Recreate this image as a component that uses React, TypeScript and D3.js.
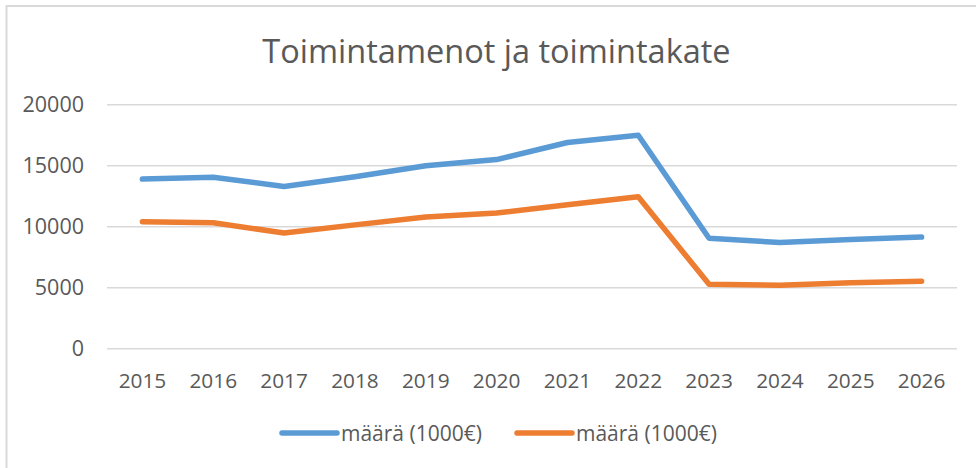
import React from "react";
import * as d3 from "d3";

const years = ["2015","2016","2017","2018","2019","2020","2021","2022","2023","2024","2025","2026"];
const seriesA = [13900, 14050, 13300, 14100, 15000, 15500, 16900, 17500, 9050, 8700, 8950, 9150];
const seriesB = [10400, 10330, 9480, 10150, 10800, 11120, 11800, 12450, 5280, 5200, 5400, 5530];
const seriesNames = ["määrä (1000€)", "määrä (1000€)"];
const yTicks = [0, 5000, 10000, 15000, 20000];
const title = "Toimintamenot ja toimintakate";

const W = 976, H = 468;
const FONT = "'Open Sans', 'Noto Sans', sans-serif";
const TEXT = "#595959";

export default function App() {
  const x = d3.scaleBand<string>().domain(years).range([107, 957]);
  const y = d3.scaleLinear().domain([0, 20000]).range([348.7, 104.7]);
  const line = d3.line<number>()
    .x((_, i) => (x(years[i]) as number) + x.bandwidth() / 2)
    .y((d) => y(d));
  const colors = ["#5B9BD5", "#ED7D31"];
  const data = [seriesA, seriesB];
  const legendX = [282, 517];

  return (
    <svg width={W} height={H} style={{ position: "absolute", left: 0, top: 0, background: "#fff" }}
      fontFamily={FONT}>
      <rect x={0} y={0} width={W} height={H} fill="#fff" />
      <rect x={6.5} y={6} width={W + 10} height={H + 10} fill="none" stroke="#D9D9D9" strokeWidth={2} />
      <text x={496.5} y={63} textAnchor="middle" fontSize={32.5} fill={TEXT}>{title}</text>
      {yTicks.map((t) => (
        <g key={t}>
          <line x1={107} x2={957} y1={y(t)} y2={y(t)} stroke="#D9D9D9" strokeWidth={1.5} />
          <text x={84} y={y(t)} dy="0.36em" textAnchor="end" fontSize={21.5} fill={TEXT}>{t}</text>
        </g>
      ))}
      {years.map((yr) => (
        <text key={yr} x={(x(yr) as number) + x.bandwidth() / 2} y={388} textAnchor="middle" fontSize={20.8} fill={TEXT}>{yr}</text>
      ))}
      {data.map((s, i) => (
        <path key={i} d={line(s) as string} fill="none" stroke={colors[i]} strokeWidth={5.5}
          strokeLinejoin="round" strokeLinecap="round" />
      ))}
      {seriesNames.map((n, i) => (
        <g key={i}>
          <line x1={legendX[i]} x2={legendX[i] + 55} y1={433} y2={433} stroke={colors[i]} strokeWidth={5.5} strokeLinecap="round" />
          <text x={legendX[i] + 59} y={433} dy="0.36em" fontSize={21} fill={TEXT}>{n}</text>
        </g>
      ))}
    </svg>
  );
}
